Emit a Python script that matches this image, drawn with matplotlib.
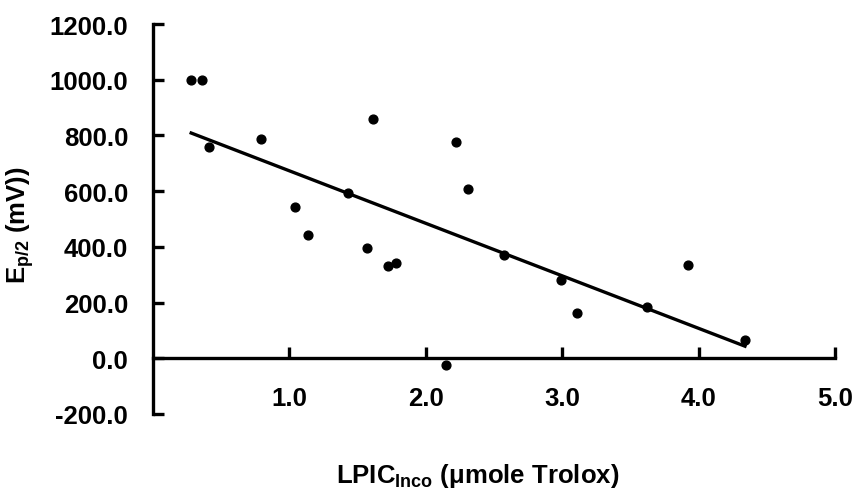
import numpy as np
import matplotlib
matplotlib.use("Agg")
from matplotlib import pyplot as plt

# values
lpic = [0.28, 0.36, 0.41, 0.79, 1.04, 1.14, 1.43, 1.61, 1.57, 1.72,
        1.78, 2.15, 2.22, 2.31, 2.57, 2.99, 3.11, 3.62, 3.92, 4.34]
ep2 = [1000, 1000, 759, 788, 543, 442, 594, 860, 396, 331,
       342, -25, 777, 608, 371, 280, 162, 183, 334, 65]

x_ticks = [1.0, 2.0, 3.0, 4.0, 5.0]
y_ticks = [-200, 0, 200, 400, 600, 800, 1000, 1200]

plt.rcParams["font.family"] = ["Liberation Sans", "DejaVu Sans"]
plt.rcParams["font.weight"] = "bold"
plt.rcParams["mathtext.fontset"] = "custom"
plt.rcParams["mathtext.rm"] = "Liberation Sans:bold"
plt.rcParams["mathtext.it"] = "Liberation Sans:bold"
plt.rcParams["mathtext.bf"] = "Liberation Sans:bold"

FS = 18.5
W, H = 855, 489
fig = plt.figure(figsize=(W / 100, H / 100), dpi=100)
ax = fig.add_axes([153 / W, 74 / H, (835 - 153) / W, 390 / H])

x = np.array(lpic)
y = np.array(ep2)
slope, icpt = np.polyfit(x, y, 1)
xl = np.array([x.min(), x.max()])
ax.plot(xl, slope * xl + icpt, color="black", lw=2.4, zorder=2)
ax.scatter(x, y, s=40, color="black", zorder=3, clip_on=False)

ax.set_xlim(0, 5)
ax.set_ylim(-200, 1200)
ax.set_xticks(x_ticks)
ax.set_xticklabels([f"{v:.1f}" for v in x_ticks])
ax.set_yticks(y_ticks)
ax.set_yticklabels([f"{v:.1f}" for v in y_ticks])

for s in ("top", "right"):
    ax.spines[s].set_visible(False)
ax.spines["bottom"].set_position(("data", 0))
for s in ("left", "bottom"):
    ax.spines[s].set_linewidth(2.4)

ax.tick_params(axis="both", direction="in", length=8, width=2.4, labelsize=FS)
ax.tick_params(axis="x", pad=20)
ax.tick_params(axis="y", pad=18)

fig.text(20 / W, 0.5 * (74 + 464) / H - 0.01, r"E$_{p/2}$ (mV))", rotation=90,
         ha="center", va="center", fontsize=FS)
fig.text(478 / W, 6 / H, r"LPIC$_{Inco}$ (μmole Trolox)",
         ha="center", va="baseline", fontsize=FS)

fig.savefig("out.png", dpi=100)
